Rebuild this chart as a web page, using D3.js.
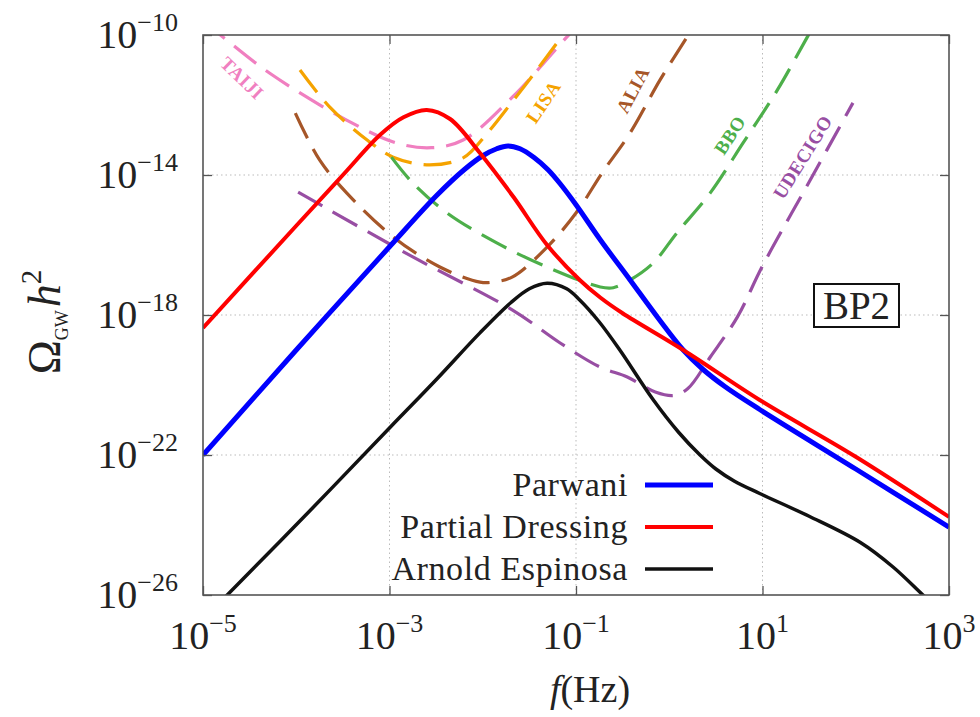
<!DOCTYPE html>
<html><head><meta charset="utf-8">
<script src="https://cdnjs.cloudflare.com/ajax/libs/d3/7.8.5/d3.min.js"></script>
<style>body{margin:0;background:#fff}svg{display:block}</style>
</head><body>
<svg id="c" width="980" height="717"></svg>
<script>
// ---- data (log10 values) ----
const xTickExps = [-5, -3, -1, 1, 3];
const yTickExps = [-10, -14, -18, -22, -26];

const parwaniLogF     = [-5, -4, -3, -2.5, -2.2, -2.0, -1.85, -1.73, -1.6, -1.45, -1.3, -1.17, -1.0, -0.74, -0.42, -0.13, 0.15, 0.36, 0.6, 0.97, 2.0, 3.0];
const parwaniLogOmega = [-22.0, -19.0, -16.05, -14.6, -13.85, -13.45, -13.25, -13.17, -13.25, -13.5, -13.85, -14.25, -14.85, -15.85, -17.0, -18.05, -19.0, -19.55, -20.05, -20.7, -22.4, -24.06];

const dressingLogF     = [-5, -4, -3.5, -3.1, -2.85, -2.6, -2.35, -2.03, -1.67, -1.31, -0.96, -0.74, -0.5, 0.15, 0.97, 2.0, 3.0];
const dressingLogOmega = [-18.37, -15.45, -14.0, -12.85, -12.35, -12.14, -12.4, -13.37, -14.63, -16.0, -17.0, -17.5, -17.95, -19.0, -20.43, -22.05, -23.77];

const espinosaLogF     = [-5, -4.74, -3.82, -2.99, -2.5, -2.03, -1.7, -1.5, -1.31, -1.1, -0.96, -0.75, -0.53, -0.17, 0.1, 0.33, 0.5, 0.7, 0.97, 1.5, 2.05, 2.4, 2.72, 3.0];
const espinosaLogOmega = [-26.7, -26.0, -23.5, -21.2, -19.85, -18.51, -17.65, -17.25, -17.09, -17.25, -17.57, -18.2, -19.0, -20.43, -21.35, -22.0, -22.4, -22.75, -23.1, -23.75, -24.5, -25.2, -26.0, -26.7];

const taijiLogF     = [-5.0, -4.79, -4.28, -3.46, -2.92, -2.55, -2.21, -1.68, -1.10, -0.9];
const taijiLogOmega = [-9.6, -10.05, -11.1, -12.43, -13.09, -13.22, -13.0, -11.77, -10.06, -9.5];

const lisaLogF     = [-3.96, -3.64, -3.24, -2.96, -2.57, -2.21, -1.95, -1.67, -1.42, -1.14, -1.0];
const lisaLogOmega = [-11.0, -12.06, -13.0, -13.49, -13.71, -13.51, -12.8, -11.86, -11.0, -10.0, -9.5];

const aliaLogF     = [-4.01, -3.75, -3.46, -2.96, -2.46, -2.03, -1.89, -1.68, -1.31, -0.99, -0.72, -0.42, -0.10, 0.19, 0.3];
const aliaLogOmega = [-12.23, -13.57, -14.51, -15.77, -16.63, -17.06, -17.06, -16.91, -16.06, -15.05, -13.94, -12.8, -11.29, -10.06, -9.6];

const bboLogF     = [-2.98, -2.75, -2.38, -1.85, -1.31, -0.74, -0.6, -0.42, -0.17, 0.08, 0.44, 0.79, 1.16, 1.48, 1.6];
const bboLogOmega = [-13.49, -14.23, -15.09, -15.94, -16.63, -17.2, -17.22, -17.0, -16.51, -15.66, -14.51, -13.09, -11.57, -10.06, -9.5];

const udecigoLogF     = [-3.98, -2.75, -1.68, -1.17, -0.74, -0.45, -0.15, 0.05, 0.2, 0.44, 0.73, 1.0, 1.5, 1.97];
const udecigoLogOmega = [-14.49, -16.34, -17.86, -18.8, -19.49, -19.77, -20.2, -20.3, -20.1, -19.2, -18.06, -16.6, -14.2, -11.94];

const solidSeries = [
  {name: "Parwani",          logF: parwaniLogF,  logO: parwaniLogOmega,  color: "#0000ff", width: 5},
  {name: "Partial Dressing", logF: dressingLogF, logO: dressingLogOmega, color: "#ff0000", width: 4},
  {name: "Arnold Espinosa",  logF: espinosaLogF, logO: espinosaLogOmega, color: "#111111", width: 3.5}
];
const detectors = [
  {name: "TAIJI",   logF: taijiLogF,   logO: taijiLogOmega,   color: "#f07fc0", lab: [-4.58, -11.23], rot: 44},
  {name: "LISA",    logF: lisaLogF,    logO: lisaLogOmega,    color: "#f5a300", lab: [-1.35, -11.91], rot: -56},
  {name: "ALIA",    logF: aliaLogF,    logO: aliaLogOmega,    color: "#a65628", lab: [-0.39, -11.57], rot: -62},
  {name: "BBO",     logF: bboLogF,     logO: bboLogOmega,     color: "#4daf4a", lab: [0.65, -12.86],  rot: -57},
  {name: "UDECIGO", logF: udecigoLogF, logO: udecigoLogOmega, color: "#984ea3", lab: [1.43, -13.49],  rot: -58}
];

// ---- layout ----
const L = 203, R = 949, T = 35, B = 595;
const svg = d3.select("#c");
const x = d3.scaleLog().domain([1e-5, 1e3]).range([L, R]);
const y = d3.scaleLog().domain([1e-26, 1e-10]).range([B, T]);
const P = v => Math.pow(10, v);
const serif = "'Liberation Serif', 'Times New Roman', serif";

// grid
const g = svg.append("g");
g.selectAll(".gx").data(xTickExps.slice(1, -1)).join("line")
  .attr("x1", d => x(P(d))).attr("x2", d => x(P(d))).attr("y1", T).attr("y2", B)
  .attr("stroke", "#bbb").attr("stroke-width", 1).attr("stroke-dasharray", "1.5,3");
g.selectAll(".gy").data(yTickExps.slice(1, -1)).join("line")
  .attr("y1", d => y(P(d))).attr("y2", d => y(P(d))).attr("x1", L).attr("x2", R)
  .attr("stroke", "#bbb").attr("stroke-width", 1).attr("stroke-dasharray", "1.5,3");

// clip
svg.append("clipPath").attr("id", "clip").append("rect")
  .attr("x", L).attr("y", T).attr("width", R - L).attr("height", B - T);
const plot = svg.append("g").attr("clip-path", "url(#clip)");

const line = d3.line().x(d => x(d[0])).y(d => y(d[1])).curve(d3.curveCatmullRom.alpha(0.5));
const pts = s => s.logF.map((f, i) => [P(f), P(s.logO[i])]);

detectors.forEach(s => {
  plot.append("path").attr("d", line(pts(s))).attr("fill", "none")
    .attr("stroke", s.color).attr("stroke-width", 3.2).attr("stroke-dasharray", "28,12");
});
solidSeries.forEach(s => {
  plot.append("path").attr("d", line(pts(s))).attr("fill", "none")
    .attr("stroke", s.color).attr("stroke-width", s.width).attr("stroke-linejoin", "round");
});

// detector labels
detectors.forEach(s => {
  const cx = x(P(s.lab[0])), cy = y(P(s.lab[1]));
  svg.append("text").attr("transform", `translate(${cx},${cy}) rotate(${s.rot})`)
    .attr("text-anchor", "middle").attr("dominant-baseline", "central")
    .attr("font-family", serif).attr("font-size", 19).attr("font-weight", "bold")
    .attr("fill", s.color).attr("letter-spacing", 0.5).text(s.name);
});

// axes (ticks only, inward)
const xb = d3.axisBottom(x).tickValues(xTickExps.map(P)).tickSize(-9).tickFormat("");
const xt = d3.axisTop(x).tickValues(xTickExps.map(P)).tickSize(-9).tickFormat("");
const yl = d3.axisLeft(y).tickValues(yTickExps.map(P)).tickSize(-9).tickFormat("");
const yr = d3.axisRight(y).tickValues(yTickExps.map(P)).tickSize(-9).tickFormat("");
[[xb, `translate(0,${B})`], [xt, `translate(0,${T})`], [yl, `translate(${L},0)`], [yr, `translate(${R},0)`]]
  .forEach(([a, t]) => {
    const gg = svg.append("g").attr("transform", t).call(a);
    gg.select(".domain").remove();
    gg.selectAll("line").attr("stroke", "#555").attr("stroke-width", 1.3);
  });
svg.append("rect").attr("x", L).attr("y", T).attr("width", R - L).attr("height", B - T)
  .attr("fill", "none").attr("stroke", "#555").attr("stroke-width", 1.6);

// tick labels
function powLabel(sel, e) {
  sel.append("tspan").text("10");
  sel.append("tspan").attr("font-size", 26).attr("dy", -17).text((e < 0 ? "\u2212" : "") + Math.abs(e));
}
xTickExps.forEach(e => {
  const t = svg.append("text").attr("x", x(P(e))).attr("y", 649).attr("text-anchor", "middle")
    .attr("font-family", serif).attr("font-size", 40).attr("fill", "#222");
  powLabel(t, e);
});
yTickExps.forEach(e => {
  const t = svg.append("text").attr("x", 178).attr("y", y(P(e)) + 13).attr("text-anchor", "end")
    .attr("font-family", serif).attr("font-size", 40).attr("fill", "#222");
  powLabel(t, e);
});

// axis titles
const xtitle = svg.append("text").attr("x", 590).attr("y", 702).attr("text-anchor", "middle")
  .attr("font-family", serif).attr("font-size", 38).attr("fill", "#222");
xtitle.append("tspan").attr("font-style", "italic").text("f");
xtitle.append("tspan").text("(Hz)");

const ytitle = svg.append("text").attr("transform", "translate(60,322) rotate(-90)")
  .attr("text-anchor", "middle").attr("font-family", serif).attr("font-size", 46).attr("fill", "#222");
ytitle.append("tspan").text("\u03A9");
ytitle.append("tspan").attr("font-size", 18).attr("dy", 8).text("GW");
ytitle.append("tspan").attr("font-style", "italic").attr("dy", -8).attr("dx", 3).text("h");
ytitle.append("tspan").attr("font-size", 29).attr("dy", -19).text("2");

// legend
solidSeries.forEach((s, i) => {
  const ly = 485 + i * 42;
  svg.append("text").attr("x", 628).attr("y", ly + 11).attr("text-anchor", "end")
    .attr("font-family", serif).attr("font-size", 34).attr("letter-spacing", 0.6)
    .attr("fill", "#222").text(s.name);
  svg.append("line").attr("x1", 645).attr("x2", 713).attr("y1", ly).attr("y2", ly)
    .attr("stroke", s.color).attr("stroke-width", s.width);
});

// BP2 box
svg.append("rect").attr("x", 814).attr("y", 284).attr("width", 85).attr("height", 43)
  .attr("fill", "#fff").attr("stroke", "#111").attr("stroke-width", 2);
svg.append("text").attr("x", 856.5).attr("y", 319).attr("text-anchor", "middle")
  .attr("font-family", serif).attr("font-size", 39).attr("fill", "#222").text("BP2");
</script>
</body></html>
